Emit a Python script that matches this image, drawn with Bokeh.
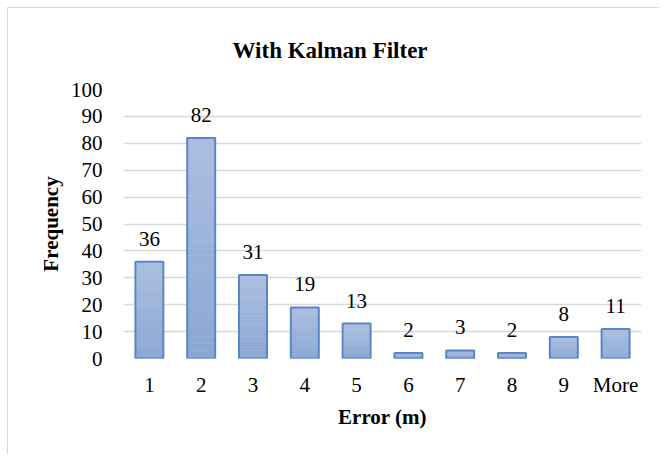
from bokeh.plotting import figure
from bokeh.models import ColumnDataSource, Range1d, FactorRange, LabelSet, Title
from bokeh.embed import file_html
from bokeh.resources import INLINE

categories = ["1", "2", "3", "4", "5", "6", "7", "8", "9", "More"]
frequency = [36, 82, 31, 19, 13, 2, 3, 2, 8, 11]
y_ticks = [0, 10, 20, 30, 40, 50, 60, 70, 80, 90, 100]

FONT = "Liberation Serif"
BAR_W = 0.54
N_SLICES = 30
TOP_RGB = (172, 191, 224)
BOT_RGB = (139, 167, 213)

p = figure(
    x_range=FactorRange(*categories, range_padding=0.0),
    y_range=Range1d(0, 100),
    frame_width=518, frame_height=269,
    min_border_left=115, min_border_right=18, min_border_top=81, min_border_bottom=96,
    output_backend="svg", toolbar_location=None, tools="",
)
p.title = Title(text="With Kalman Filter", text_font=FONT, text_font_size="23px",
                text_font_style="bold", text_color="#000000", align="left", offset=109, standoff=54)

# gradient bars: slices computed from each value
xs, bots, tops, cols = [], [], [], []
for c, v in zip(categories, frequency):
    for i in range(N_SLICES):
        f0 = i / N_SLICES
        f1 = (i + 1) / N_SLICES
        t = (f0 + f1) / 2
        r = int(BOT_RGB[0] + (TOP_RGB[0] - BOT_RGB[0]) * t)
        g = int(BOT_RGB[1] + (TOP_RGB[1] - BOT_RGB[1]) * t)
        b = int(BOT_RGB[2] + (TOP_RGB[2] - BOT_RGB[2]) * t)
        xs.append(c)
        bots.append(v * f0)
        tops.append(v * f1)
        cols.append("#%02x%02x%02x" % (r, g, b))
p.vbar(x=xs, bottom=bots, top=tops, width=BAR_W, fill_color=cols, line_color=cols, line_width=0.6)

src = ColumnDataSource(dict(x=categories, top=frequency, label=[str(v) for v in frequency]))
p.vbar(x="x", top="top", width=BAR_W, source=src, fill_alpha=0, line_color="#5a86c4", line_width=2)

labels = LabelSet(x="x", y="top", text="label", source=src, text_align="center",
                  text_baseline="bottom", y_offset=16, text_font=FONT, text_font_size="21px",
                  text_color="#000000")
p.add_layout(labels)

p.yaxis.ticker = y_ticks
p.xgrid.grid_line_color = None
p.ygrid.grid_line_color = "#d9d9d9"
p.ygrid.grid_line_width = 1.6
p.outline_line_color = None

for ax in (p.xaxis[0], p.yaxis[0]):
    ax.axis_line_color = None
    ax.major_tick_line_color = None
    ax.minor_tick_line_color = None
    ax.major_label_text_font = FONT
    ax.major_label_text_font_size = "21px"
    ax.major_label_text_color = "#000000"
    ax.axis_label_text_font = FONT
    ax.axis_label_text_font_size = "21px"
    ax.axis_label_text_font_style = "bold"
    ax.axis_label_text_color = "#000000"

p.xaxis.axis_label = "Error (m)"
p.yaxis.axis_label = "Frequency"
p.xaxis.major_label_standoff = 8
p.yaxis.major_label_standoff = 15
p.xaxis.axis_label_standoff = 5
p.yaxis.axis_label_standoff = 5
p.styles = {"margin-left": "7px", "margin-top": "7px",
            "border-left": "1px solid #d9d9d9", "border-top": "1px solid #d9d9d9"}

open("out.html", "w").write(file_html(p, INLINE))
